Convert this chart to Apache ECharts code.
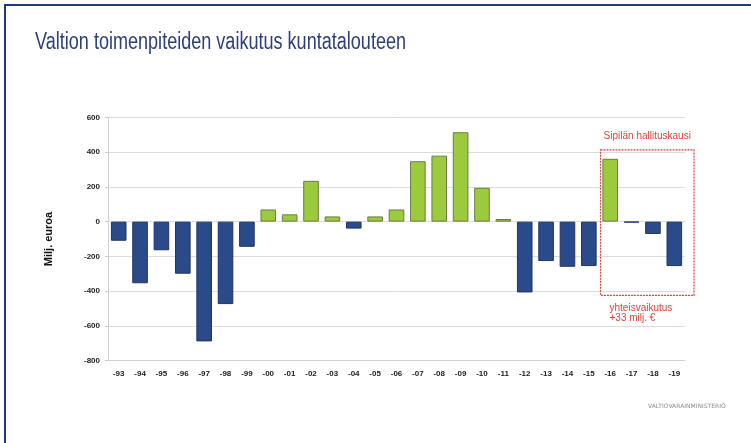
<!DOCTYPE html>
<html>
<head>
<meta charset="utf-8">
<script src="https://cdn.jsdelivr.net/npm/echarts@6/dist/echarts.min.js"></script>
<style>
  html, body { margin: 0; padding: 0; background: #fff; }
  #chart { width: 751px; height: 443px; }
</style>
</head>
<body>
<div id="chart"></div>
<script>
var years = ["-93", "-94", "-95", "-96", "-97", "-98", "-99", "-00", "-01", "-02",
  "-03", "-04", "-05", "-06", "-07", "-08", "-09", "-10", "-11", "-12",
  "-13", "-14", "-15", "-16", "-17", "-18", "-19"];
var effect = [-110, -355, -165, -300, -690, -475, -145, 70, 42, 235,
  30, -40, 30, 70, 348, 380, 515, 195, 15, -408,
  -227, -260, -256, 362, -5, -71, -256];
var yTicks = { min: -800, max: 600, step: 200 };

var green = "#9bcb3c";
var blue = "#2a4a8a";

// positive years green, negative years blue
var barData = effect.map(function (v) {
  return {
    value: v,
    itemStyle: {
      color: v >= 0 ? green : blue,
      borderColor: v >= 0 ? "#6a7a48" : "#1e3568",
      borderWidth: 1
    }
  };
});

var chart = echarts.init(document.getElementById("chart"));
chart.setOption({
  animation: false,
  backgroundColor: "#fff",
  grid: { left: 108, right: 66, top: 117.5, bottom: 82.5 },
  xAxis: {
    type: "category",
    data: years,
    axisTick: { show: false },
    axisLine: { onZero: false, lineStyle: { color: "#d0d0d0", width: 1 } },
    axisLabel: {
      interval: 0,
      margin: 9,
      fontSize: 8,
      fontWeight: "bold",
      color: "#222",
      fontFamily: "Arial, sans-serif"
    }
  },
  yAxis: {
    type: "value",
    min: yTicks.min,
    max: yTicks.max,
    interval: yTicks.step,
    name: "Milj. euroa",
    nameLocation: "middle",
    nameGap: 54,
    nameRotate: 90,
    nameTextStyle: { fontSize: 11, fontWeight: "bold", color: "#111", fontFamily: "Arial, sans-serif" },
    axisLine: { show: true, lineStyle: { color: "#d0d0d0" } },
    axisTick: { show: true, length: 3, lineStyle: { color: "#c8c8c8" } },
    splitLine: { lineStyle: { color: "#dcdcdc", width: 1 } },
    axisLabel: {
      margin: 8,
      fontSize: 8,
      fontWeight: "bold",
      color: "#222",
      fontFamily: "Arial, sans-serif"
    }
  },
  series: [{
    type: "bar",
    data: barData,
    barCategoryGap: "27%"
  }]
});

// annotation box around the Sipilä government years
var p0 = chart.convertToPixel({ xAxisIndex: 0, yAxisIndex: 0 }, ["-16", 413]);
var p1 = chart.convertToPixel({ xAxisIndex: 0, yAxisIndex: 0 }, ["-19", -425]);
var band = chart.getModel().getComponent("xAxis", 0).axis.getBandWidth();
var boxL = p0[0] - band / 2 + 1;
var boxR = p1[0] + band / 2 + 9;
var red = "#e0413f";

chart.setOption({
  graphic: [
    {
      type: "rect",
      shape: { x: 5, y: 5, width: 800, height: 500 },
      style: { fill: "none", stroke: "#1f3a7a", lineWidth: 2 },
      silent: true
    },
    {
      type: "text",
      x: 35, y: 31,
      scaleX: 0.785,
      style: {
        text: "Valtion toimenpiteiden vaikutus kuntatalouteen",
        fontSize: 23,
        fill: "#2c3f78",
        fontFamily: "Arial, sans-serif"
      }
    },
    {
      type: "rect",
      shape: { x: boxL, y: p0[1], width: boxR - boxL, height: p1[1] - p0[1] },
      style: { fill: "none", stroke: red, lineWidth: 1.2, lineDash: [2, 1] }
    },
    {
      type: "text",
      x: (boxL + boxR) / 2, y: p0[1] - 14,
      style: {
        text: "Sipilän hallituskausi",
        fontSize: 10,
        fill: red,
        align: "center",
        verticalAlign: "middle",
        fontFamily: "Arial, sans-serif"
      }
    },
    {
      type: "text",
      x: boxL + 9, y: p1[1] + 8,
      style: {
        text: "yhteisvaikutus\n+33 milj. €",
        fontSize: 10,
        lineHeight: 10,
        fill: red,
        align: "left",
        verticalAlign: "top",
        fontFamily: "Arial, sans-serif"
      }
    },
    {
      type: "text",
      left: 648, top: 403,
      style: {
        text: "VALTIOVARAINMINISTERIÖ",
        fontSize: 6,
        fill: "#8a8a8a",
        fontFamily: "'DejaVu Sans', sans-serif"
      }
    }
  ]
});
</script>
</body>
</html>
